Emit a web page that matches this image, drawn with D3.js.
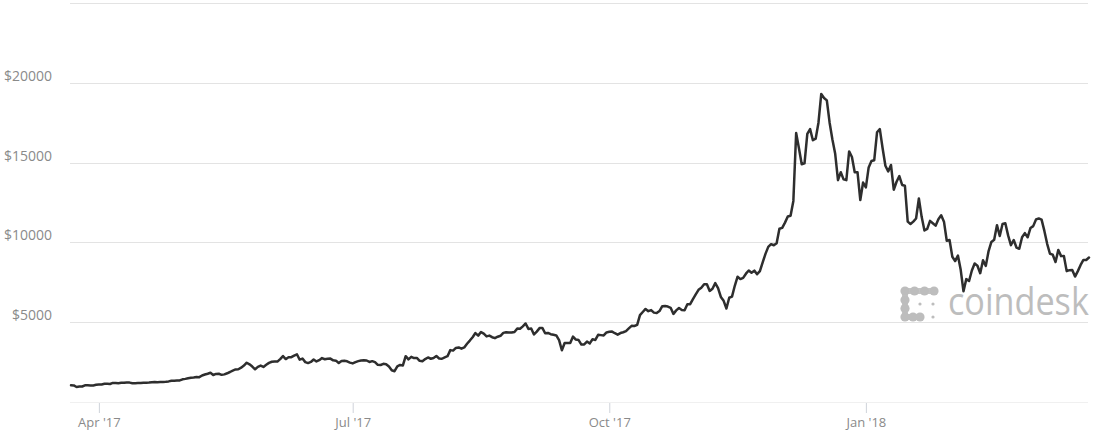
<!DOCTYPE html>
<html><head><meta charset="utf-8">
<script src="https://cdn.jsdelivr.net/npm/d3@7"></script>
<style>
html,body{margin:0;padding:0;background:#fff;}
svg{display:block;}
text{font-family:"Open Sans", sans-serif;}
</style></head><body>
<svg id="chart" width="1096" height="439"></svg>
<script>
// Daily BPI closing prices (USD)
const mar17 = [1045, 1040, 940, 965, 970, 1045, 1045, 1040, 1040, 1075];
const apr17 = [1090, 1100, 1145, 1140, 1130, 1195, 1190, 1180, 1205, 1205, 1225, 1215, 1170, 1180, 1185, 1185, 1200, 1210, 1215, 1240, 1250, 1245, 1250, 1250, 1265, 1290, 1335, 1330, 1340, 1350];
const may17 = [1420, 1450, 1490, 1520, 1530, 1560, 1555, 1660, 1720, 1770, 1830, 1690, 1760, 1770, 1700, 1730, 1800, 1880, 1970, 2040, 2050, 2150, 2280, 2460, 2360, 2220, 2050, 2200, 2280, 2200, 2330];
const jun17 = [2450, 2520, 2540, 2530, 2690, 2880, 2690, 2800, 2810, 2910, 2990, 2650, 2720, 2500, 2440, 2510, 2660, 2540, 2620, 2750, 2680, 2710, 2720, 2610, 2590, 2440, 2570, 2580, 2550, 2470];
const jul17 = [2420, 2500, 2560, 2600, 2610, 2600, 2510, 2560, 2500, 2330, 2320, 2390, 2360, 2220, 1990, 1930, 2230, 2320, 2290, 2870, 2670, 2830, 2750, 2760, 2580, 2560, 2690, 2790, 2710, 2760, 2880];
const aug17 = [2730, 2710, 2800, 2870, 3250, 3220, 3390, 3420, 3340, 3420, 3650, 3850, 4060, 4320, 4160, 4380, 4280, 4110, 4160, 4060, 4000, 4090, 4150, 4330, 4370, 4350, 4350, 4390, 4600, 4590, 4740];
const sep17 = [4920, 4580, 4600, 4230, 4410, 4630, 4640, 4310, 4330, 4250, 4210, 4170, 3880, 3240, 3700, 3700, 3700, 4100, 3910, 3880, 3600, 3610, 3790, 3670, 3930, 3890, 4210, 4190, 4170, 4360];
const oct17 = [4400, 4410, 4310, 4220, 4320, 4370, 4440, 4610, 4770, 4760, 4830, 5440, 5640, 5830, 5690, 5760, 5600, 5570, 5700, 6000, 6010, 5980, 5900, 5520, 5740, 5890, 5770, 5750, 6130, 6130, 6450];
const nov17 = [6740, 7030, 7160, 7380, 7380, 6960, 7100, 7450, 7140, 6580, 6340, 5860, 6530, 6600, 7280, 7850, 7700, 7780, 8040, 8240, 8100, 8230, 8010, 8200, 8750, 9280, 9720, 9890, 9820, 9950];
const dec17 = [10860, 10910, 11240, 11620, 11670, 12600, 16850, 15900, 14900, 14950, 16800, 17100, 16400, 16500, 17500, 19300, 19050, 18900, 17500, 16450, 15550, 13900, 14400, 13950, 13900, 15700, 15350, 14400, 14400, 12650, 13750];
const jan18 = [13450, 14700, 15100, 15150, 16900, 17100, 15900, 14800, 14450, 14850, 13300, 13800, 14150, 13600, 13550, 11300, 11150, 11300, 11500, 12750, 11600, 10750, 10850, 11350, 11200, 11050, 11450, 11700, 11300, 10100, 10150];
const feb18 = [9100, 8830, 9175, 8280, 6940, 7700, 7580, 8240, 8680, 8540, 8070, 8880, 8530, 9460, 10030, 10170, 11080, 10400, 11150, 11200, 10440, 9830, 10150, 9680, 9600, 10320, 10580, 10320];
const mar18 = [10900, 11020, 11440, 11500, 11430, 10720, 9910, 9290, 9230, 8770, 9530, 9140, 9150, 8200, 8260, 8270, 7860, 8200, 8590, 8900, 8900, 9050];

const segmentStarts = ["2017-03-22","2017-04-01","2017-05-01","2017-06-01","2017-07-01","2017-08-01","2017-09-01","2017-10-01","2017-11-01","2017-12-01","2018-01-01","2018-02-01","2018-03-01"];
const segmentValues = [mar17, apr17, may17, jun17, jul17, aug17, sep17, oct17, nov17, dec17, jan18, feb18, mar18];

const yLabelTicks = [5000, 10000, 15000, 20000];
const gridTicks = [5000, 10000, 15000, 20000, 25000];
const xTickDates = ["2017-04-01","2017-07-01","2017-10-01","2018-01-01"];
const xTickLabels = ["Apr '17","Jul '17","Oct '17","Jan '18"];
const xDomain = ["2017-03-22","2018-03-22"];

const parse = d3.timeParse("%Y-%m-%d");
const data = [];
segmentStarts.forEach((s, k) => {
  const d0 = parse(s);
  segmentValues[k].forEach((v, i) => data.push({date: d3.timeDay.offset(d0, i), value: v}));
});

const svg = d3.select("#chart");
const x = d3.scaleTime().domain(xDomain.map(parse)).range([71, 1089]);
const y = d3.scaleLinear().domain([0, 25000]).range([402, 3]);
const gridX0 = 70, gridX1 = 1088;

// gridlines
svg.append("g").selectAll("line").data(gridTicks).join("line")
  .attr("x1", gridX0).attr("x2", gridX1)
  .attr("y1", d => Math.round(y(d)) + 0.5).attr("y2", d => Math.round(y(d)) + 0.5)
  .attr("stroke", "#e3e3e3").attr("stroke-width", 1);

// baseline
svg.append("line").attr("x1", gridX0).attr("x2", gridX1)
  .attr("y1", Math.round(y(0)) + 0.5).attr("y2", Math.round(y(0)) + 0.5)
  .attr("stroke", "#f0f0f0");

// y labels
svg.append("g").selectAll("text").data(yLabelTicks).join("text")
  .attr("x", 52).attr("y", d => y(d) - 2)
  .attr("text-anchor", "end").attr("font-size", 14).attr("fill", "#8a8a8a")
  .text(d => "$" + d);

// x axis
const xAxis = d3.axisBottom(x)
  .tickValues(xTickDates.map(parse))
  .tickFormat((d, i) => xTickLabels[i])
  .tickSize(10).tickPadding(5);
const gx = svg.append("g").attr("transform", "translate(0,403)").call(xAxis);
gx.select(".domain").remove();
gx.selectAll(".tick line").attr("stroke", "#cfd3da");
gx.selectAll(".tick text").attr("font-size", 13).attr("fill", "#8a8a8a")
  .attr("font-family", "'Open Sans', sans-serif");

// watermark (logo icon + wordmark)
const wm = svg.append("g").attr("fill", "#bdbdbd");
wm.append("path").attr("d", "M934,291 L905,291 L905,317 L920,317")
  .attr("fill", "none").attr("stroke", "#c4c4c4").attr("stroke-width", 6)
  .attr("stroke-linecap", "round").attr("stroke-linejoin", "round");
[[905,291],[914.5,291],[924.5,291],[934,291],[905,300],[905,308.5],[905,317],[913,317],[920,317]]
  .forEach(p => wm.append("circle").attr("cx", p[0]).attr("cy", p[1]).attr("r", 4.6));
[[920,304],[933,304],[933,317]].forEach(p => wm.append("circle").attr("cx", p[0]).attr("cy", p[1]).attr("r", 1.6));
wm.append("text").attr("transform", "translate(948,315) scale(0.9,1)")
  .attr("font-size", 38).text("coindesk");

// price line
const line = d3.line().x(d => x(d.date)).y(d => y(d.value));
svg.append("path").datum(data).attr("d", line)
  .attr("fill", "none").attr("stroke", "#2e2e2e").attr("stroke-width", 2.5)
  .attr("stroke-linejoin", "round").attr("stroke-linecap", "round");
</script>
</body></html>
